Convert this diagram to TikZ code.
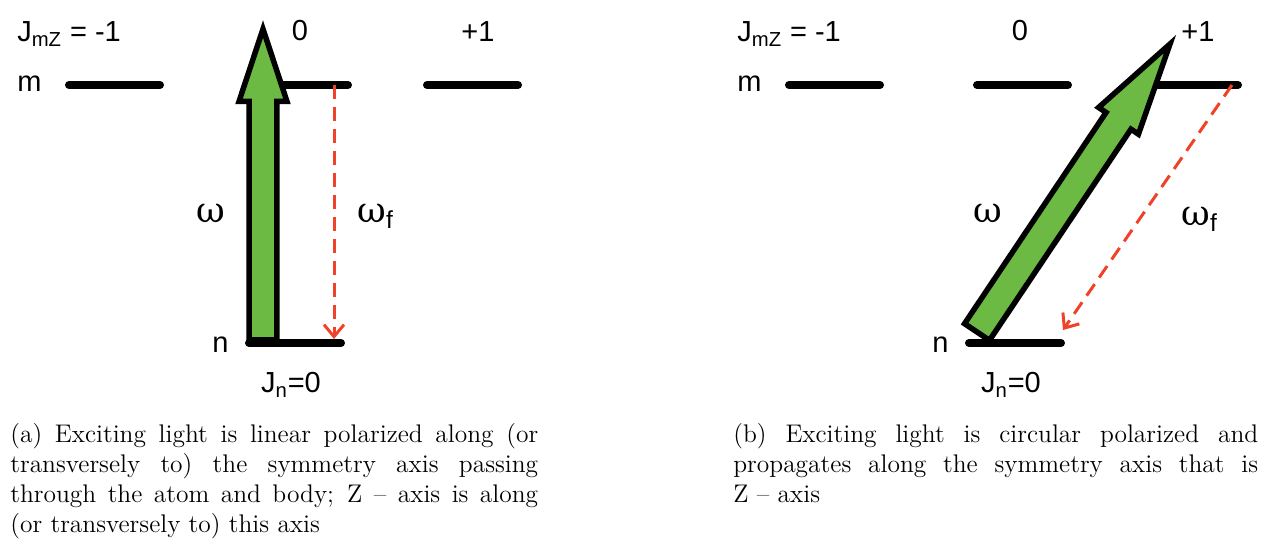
\documentclass[tikz,border=0pt]{standalone}
\usepackage{fontspec}
\newfontfamily\labfont{Liberation Sans}
\newfontfamily\omfont{DejaVu Serif}
\usetikzlibrary{arrows.meta, calc}
\definecolor{excgreen}{RGB}{108,186,68}
\definecolor{emisred}{RGB}{240,66,40}

\begin{document}
\begin{tikzpicture}[x=0.02cm, y=-0.02cm,
  lvl/.style={line width=0.16cm, line cap=round},
  lab/.style={font=\labfont\fontsize{16.5}{19}\selectfont, inner sep=0pt},
  om/.style={font=\omfont\fontsize{20}{24}\selectfont, inner sep=0pt},
  blockarr/.style={draw=black, fill=excgreen, line width=0.11cm, line join=miter},
  emis/.style={draw=emisred, line width=0.06cm, dash pattern=on 0.28cm off 0.16cm, -{Straight Barb[length=0.24cm, width=0.4cm]}},
  captxt/.style={font=\fontsize{14.5}{17.1}\selectfont, align=justify, inner sep=0pt, anchor=north west}]
  \useasboundingbox (0,0) rectangle (1269,540);
  % levels and labels, same in both panels
  \foreach \p/\dx in {a/0,b/720}{
    \node[lab,anchor=base west] (\p J) at (17+\dx,42) {J\textsubscript{mZ} = -1};
    \node[lab,anchor=base] (\p zero) at (300+\dx,41) {0};
    \node[lab,anchor=base] (\p plus) at (478+\dx,42) {+1};
    \node[lab,anchor=base west] (\p m) at (17+\dx,92) {m};
    \node[lab,anchor=base west] (\p n) at (212+\dx,353) {n};
    \node[lab,anchor=base] (\p Jn) at (291+\dx,393) {J\textsubscript{n}=0};
    \foreach \i/\xa in {1/69,2/257,3/427}{
      \coordinate (\p m\i w) at (\xa+\dx,85);
      \coordinate (\p m\i e) at (\xa+91+\dx,85);
      \draw[lvl] (\p m\i w) -- (\p m\i e);}
    \coordinate (\p nw) at (249+\dx,343);
    \coordinate (\p ne) at (341+\dx,343);
    \draw[lvl] (\p nw) -- (\p ne);
  }
  % exciting light
  \coordinate (atail) at (263,340);
  \coordinate (atip) at (263,29);
  \coordinate (btail) at (977,332);
  \coordinate (btip) at (1170,44);
  \foreach \tailc/\tipc/\sw/\hw/\hl in {atail/atip/0.28cm/0.48cm/1.45cm,btail/btip/0.3cm/0.48cm/1.85cm}{
    \coordinate (hb) at ($(\tipc)!\hl!(\tailc)$);
    \draw[blockarr] ($(\tailc)!\sw!90:(\tipc)$) -- ($(hb)!\sw!-90:(\tailc)$) -- ($(hb)!\hw!-90:(\tailc)$) -- (\tipc)
      -- ($(hb)!\hw!90:(\tailc)$) -- ($(hb)!\sw!90:(\tailc)$) -- ($(\tailc)!\sw!-90:(\tipc)$) -- cycle;}
  % emission
  \coordinate (ae1) at (334,85);
  \coordinate (ae2) at (334,339);
  \coordinate (be1) at (1232,85);
  \coordinate (be2) at (1063,330);
  \foreach \x/\y in {ae1/ae2,be1/be2}{\draw[emis] (\x) -- (\y);}
  \node[om] (aw) at (211,213) {ω};
  \node[om,anchor=base west] (awf) at (357,223) {ω\textsubscript{\labfont f}};
  \node[om] (bw) at (988,213) {ω};
  \node[om,anchor=base west] (bwf) at (1181,226) {ω\textsubscript{\labfont f}};
  % captions
  \node[captxt,text width=10.56cm] (acap) at (10,423) {(a) Exciting light is linear polarized along (or\linebreak transversely to) the symmetry axis passing\linebreak through the atom and body; Z – axis is along\linebreak (or transversely to) this axis};
  \node[captxt,text width=10.5cm] (bcap) at (733,423) {(b) Exciting light is circular polarized and\linebreak propagates along the symmetry axis that is\linebreak Z – axis};
\end{tikzpicture}
\end{document}
